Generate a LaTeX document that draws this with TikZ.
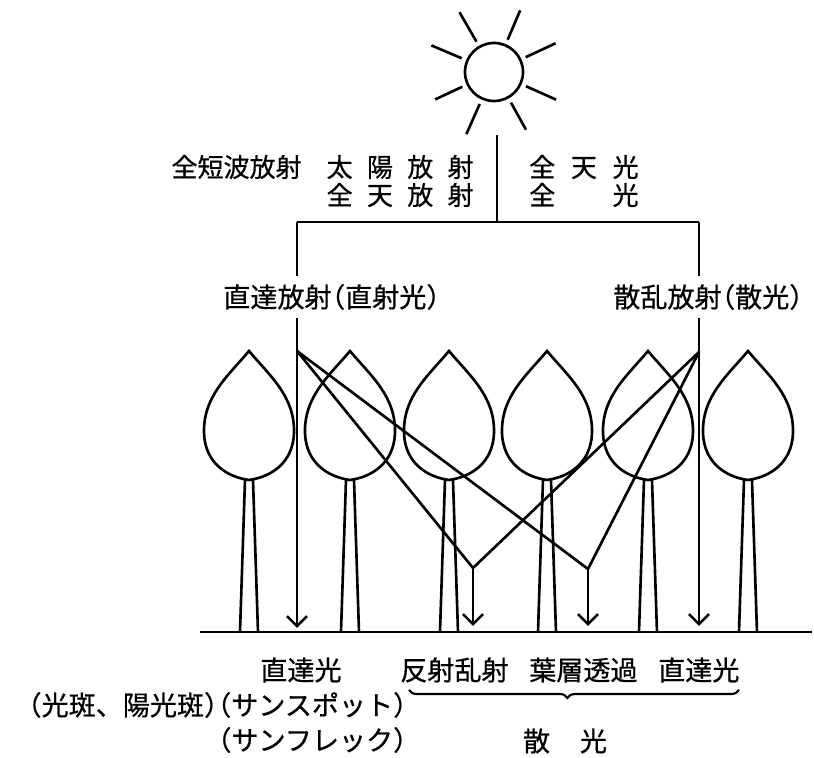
\documentclass[tikz,border=0pt]{standalone}
\usepackage{fontspec}
\newfontfamily\jp{Noto Sans CJK JP}[FakeBold=0.6]
\usetikzlibrary{arrows.meta,positioning,decorations.pathreplacing}

% half-width brackets
\newcommand\kakkoL{\kern-.5em（}
\newcommand\kakkoR{）\kern-.5em}

\begin{document}
\begin{tikzpicture}[x=0.01cm, y=-0.01cm, line width=0.75pt,
  lbl/.style={font=\jp\fontsize{7.7}{9}\selectfont, inner sep=0pt},
  toplbl/.style={font=\jp\fontsize{7.4}{9}\selectfont, inner sep=0pt},
  ray/.style={-{Straight Barb[length=1mm, width=2mm]}},
  tree/.pic={
    \draw (0,0) .. controls (-20,24) and (-46,45) .. (-45,82)
      .. controls (-44,112) and (-22,126) .. (0,129)
      .. controls (22,126) and (44,112) .. (45,82)
      .. controls (46,45) and (20,24) .. cycle;
    \draw (-4,129) -- (-9,281);
    \draw (4,129) -- (9,281);
  }]

\useasboundingbox (0,0) rectangle (814,758);

% sun
\node[draw, circle, minimum size=0.58cm, inner sep=0pt] (sun) at (494,72) {};
\draw (sun.center) ++(-25:35) -- ++(-25:33);
\draw (sun.center) ++(-67:35) -- ++(-67:32);
\draw (sun.center) ++(-120:35) -- ++(-120:34);
\draw (sun.center) ++(-157:35) -- ++(-157:33);
\draw (sun.center) ++(-205:35) -- ++(-205:30);
\draw (sun.center) ++(-246:35) -- ++(-246:33);
\draw (sun.center) ++(-299:35) -- ++(-299:31);
\draw (sun.center) ++(-336:35) -- ++(-336:33);

% names of the incoming radiation
\node[toplbl, anchor=east] (swave) at (303,167) {全短波放射};
\node[toplbl, anchor=east] (solar) at (475,167) {太\hspace{.55em}陽\hspace{.55em}放\hspace{.55em}射};
\node[toplbl, anchor=east] (sky) at (475,195) {全\hspace{.55em}天\hspace{.55em}放\hspace{.55em}射};
\node[toplbl, anchor=west] (skylight) at (528,167) {全\hspace{.6em}天\hspace{.6em}光};
\node[toplbl, anchor=west] (global) at (528,195) {\makebox[4.2em]{全\hfill 光}};

\coordinate (sunfoot) at (497,135);
\coordinate (fork) at (497,222);
\coordinate (forkL) at (297,222);
\coordinate (forkR) at (699,222);

\draw (sunfoot) -- (fork);
\draw (forkL) -- (forkR);

\node[lbl, inner ysep=1.8pt, anchor=west] (dirrad) at (222,297) {直達放射\kakkoL 直射光\kakkoR};
\node[lbl, inner ysep=1.8pt, anchor=west] (difrad) at (612,297) {散乱放射\kakkoL 散光\kakkoR};

\draw (forkL) -- (forkL |- dirrad.north);
\draw (forkR) -- (forkR |- difrad.north);

% stand of trees
\pic at (249,351) {tree};
\pic at (350,351) {tree};
\pic at (449,351) {tree};
\pic at (547,351) {tree};
\pic at (648,351) {tree};
\pic at (748,351) {tree};

% light paths
\coordinate (srcL) at (297,351);
\coordinate (srcR) at (699,352);
\coordinate (bounce1) at (473,568);
\coordinate (bounce2) at (588,569);
\coordinate (hitL) at (297,628);
\coordinate (hit1) at (473,626);
\coordinate (hit2) at (588,626);
\coordinate (hitR) at (699,626);

\draw[ray] (forkL |- dirrad.south) -- (hitL);
\draw[ray] (forkR |- difrad.south) -- (hitR);
\draw (srcL) -- (bounce1);
\draw (srcL) -- (bounce2);
\draw (srcR) -- (bounce1);
\draw (srcR) -- (bounce2);
\draw[ray] (bounce1) -- (hit1);
\draw[ray] (bounce2) -- (hit2);

% ground
\coordinate (groundL) at (200,632);
\coordinate (groundR) at (812,632);
\draw (groundL) -- (groundR);

% light at the floor
\node[lbl] (direct) at (301,670) {直達光};
\node[lbl, anchor=west] (reflect) at (399,670) {反射乱射};
\node[lbl, right=0.18cm of reflect] (transmit) {葉層透過};
\node[lbl, right=0.18cm of transmit] (direct2) {直達光};

\node[lbl, anchor=east] (spot) at (408,705) {\kakkoL 光斑、陽光斑\kakkoR\kakkoL サンスポット\kakkoR};
\node[lbl, anchor=east] (fleck) at (408,740) {\kakkoL サンフレック\kakkoR};

\coordinate (braceL) at (409,690);
\coordinate (braceR) at (739,690);
\draw[line width=0.6pt, decorate, decoration={brace, mirror, amplitude=0.08cm, aspect=0.48}] (braceL) -- (braceR);
\node[lbl] (scatter) at (565,741) {散\hspace{1.1em}光};

\end{tikzpicture}
\end{document}
